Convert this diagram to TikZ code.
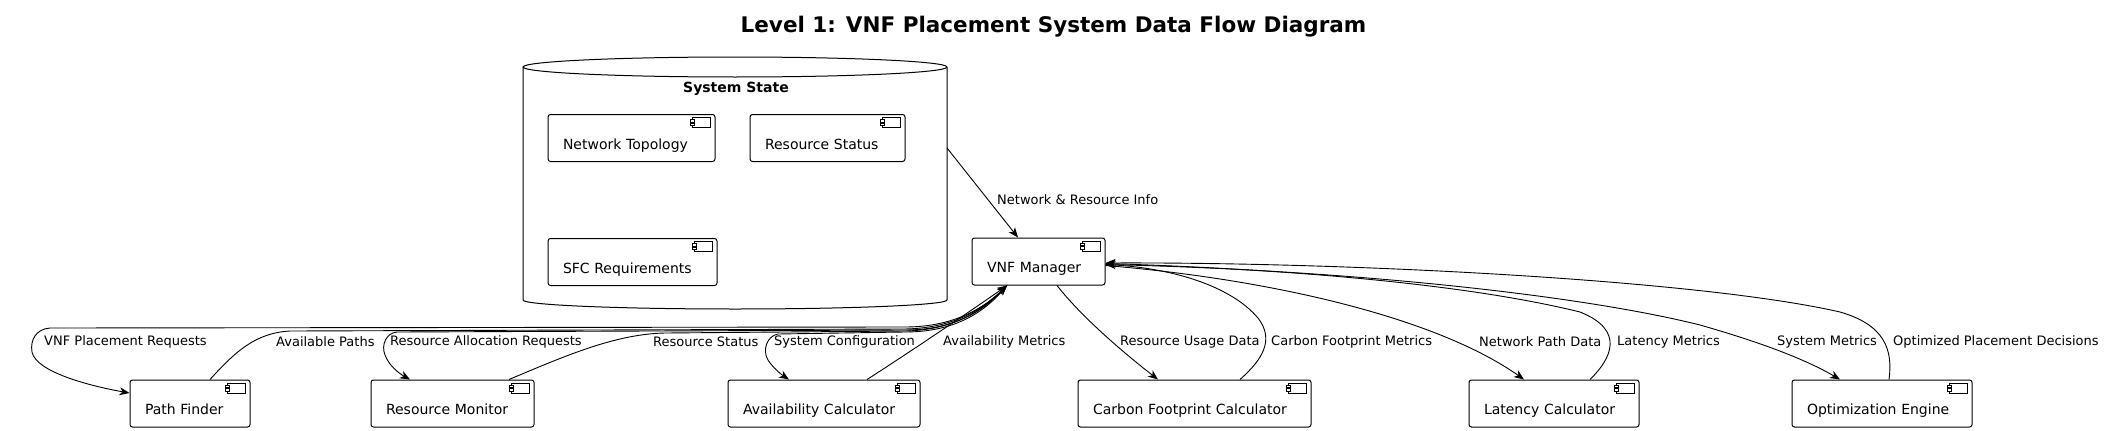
\documentclass[tikz,border=0pt]{standalone}
\usepackage{fontspec}
\setmainfont{DejaVu Sans}
\usetikzlibrary{arrows.meta}
\begin{document}
\begin{tikzpicture}[x=1pt,y=-1pt,
  comp/.style={draw, line width=1pt, rounded corners=2.5pt, fill=white,
    font=\fontsize{14pt}{16pt}\selectfont, minimum height=47pt,
    inner xsep=15pt, inner ysep=0pt, align=left, text height=22pt, text depth=0pt,
    path picture={
      \draw[line width=0.8pt, sharp corners] ([xshift=-23pt,yshift=-3pt]path picture bounding box.north east) rectangle ([xshift=-5pt,yshift=-13pt]path picture bounding box.north east);
      \draw[line width=0.8pt, sharp corners, fill=white] ([xshift=-25pt,yshift=-5pt]path picture bounding box.north east) rectangle ([xshift=-21pt,yshift=-7.5pt]path picture bounding box.north east);
      \draw[line width=0.8pt, sharp corners, fill=white] ([xshift=-25pt,yshift=-8.5pt]path picture bounding box.north east) rectangle ([xshift=-21pt,yshift=-11pt]path picture bounding box.north east);
    }},
  lbl/.style={font=\fontsize{13pt}{15pt}\selectfont, inner sep=0pt, anchor=west},
  flow/.style={draw, line width=0.9pt, -{Stealth[length=10pt,width=8pt,inset=3pt]}},
]
\useasboundingbox (0,0) rectangle (2107,431);

% title
\node[font=\bfseries\fontsize{21.5pt}{25pt}\selectfont, inner sep=0pt] (title) at (1053.5,27) {Level 1: VNF Placement System Data Flow Diagram};

% System State database
\draw[line width=1pt, fill=white] (523,67) -- (523,300) arc[start angle=180, end angle=360, x radius=212pt, y radius=9pt] -- (947,67);
\draw[line width=1pt, fill=white] (735,67) ellipse [x radius=212pt, y radius=10pt];
\node[font=\bfseries\fontsize{14pt}{16pt}\selectfont, inner sep=0pt] (sstitle) at (736,89) {System State};
\coordinate (ssE) at (947,148);

\node[comp, text width=137pt] (nt) at (631.5,138) {Network Topology};
\node[comp, text width=125pt] (rs) at (827.5,138) {Resource Status};
\node[comp, text width=139pt] (sfc) at (632.5,262) {SFC Requirements};

% VNF Manager
\node[comp, text width=103pt] (vnf) at (1038.5,261.5) {VNF Manager};

% bottom components
\node[comp, text width=90pt]  (pf)  at (190,403.5) {Path Finder};
\node[comp, text width=133pt] (rm)  at (452.5,403.5) {Resource Monitor};
\node[comp, text width=162pt] (ac)  at (824,403.5) {Availability Calculator};
\node[comp, text width=203pt] (cfc) at (1194.5,403.5) {Carbon Footprint Calculator};
\node[comp, text width=140pt] (lc)  at (1554,403.5) {Latency Calculator};
\node[comp, text width=150pt] (oe)  at (1882,403.5) {Optimization Engine};

% connectors
\draw[flow] (ssE) -- ([xshift=-20.5pt]vnf.north);

\draw[flow] ([xshift=-31.5pt]vnf.south) .. controls (990,303) and (960,327) .. (905,327) -- (50,328) .. controls (36,329) and (30,340) .. (32,352) .. controls (36,372) and (90,386) .. ([yshift=10.5pt]pf.west);
\draw[flow] ([xshift=20pt]pf.north) .. controls (235,352) and (255,333) .. (290,331) -- (905,329) .. controls (962,328) and (990,302) .. ([xshift=-31.5pt]vnf.south);
\draw[flow] ([xshift=-31.5pt]vnf.south) .. controls (990,304) and (962,330) .. (905,330) -- (397,332) .. controls (386,333) and (381,345) .. (385,355) .. controls (389,366) and (400,374) .. ([xshift=-42.5pt]rm.north);
\draw[flow] ([xshift=56.5pt]rm.north) .. controls (565,356) and (615,334) .. (665,333) -- (905,331) .. controls (962,330) and (990,303) .. ([xshift=-31.5pt]vnf.south);
\draw[flow] ([xshift=-31.5pt]vnf.south) .. controls (990,306) and (962,332) .. (905,332) -- (778,334) .. controls (767,336) and (762,350) .. (768,360) .. controls (773,368) and (782,375) .. ([xshift=-35pt]ac.north);
\draw[flow] ([xshift=43pt]ac.north) .. controls (910,352) and (975,308) .. ([xshift=-31.5pt]vnf.south);

\draw[flow] ([xshift=18.5pt]vnf.south) .. controls (1080,315) and (1120,350) .. ([xshift=-36.5pt]cfc.north);
\draw[flow] ([xshift=45.5pt]cfc.north) .. controls (1262,360) and (1275,340) .. (1258,318) .. controls (1230,285) and (1170,268) .. ([yshift=-3pt]vnf.east);
\draw[flow] ([yshift=-4pt]vnf.east) .. controls (1280,280) and (1440,320) .. ([xshift=-30pt]lc.north);
\draw[flow] ([xshift=36pt]lc.north) .. controls (1612,358) and (1625,330) .. (1580,312) .. controls (1450,280) and (1250,268) .. ([yshift=-2pt]vnf.east);
\draw[flow] ([yshift=-3pt]vnf.east) .. controls (1350,270) and (1580,295) .. (1700,325) .. controls (1770,345) and (1810,362) .. ([xshift=-42pt]oe.north);
\draw[flow] ([xshift=7pt]oe.north) .. controls (1893,350) and (1885,325) .. (1840,312) .. controls (1700,280) and (1350,262) .. ([yshift=-1.5pt]vnf.east);

% labels
\node[lbl] (l0) at (997,200) {Network \& Resource Info};
\node[lbl] (l1) at (44,342) {VNF Placement Requests};
\node[lbl] (l2) at (276,342) {Available Paths};
\node[lbl] (l3) at (390,342) {Resource Allocation Requests};
\node[lbl] (l4) at (653,342) {Resource Status};
\node[lbl] (l5) at (774,342) {System Configuration};
\node[lbl] (l6) at (943,342) {Availability Metrics};
\node[lbl] (l7) at (1120,342) {Resource Usage Data};
\node[lbl] (l8) at (1271,342) {Carbon Footprint Metrics};
\node[lbl] (l9) at (1479,342) {Network Path Data};
\node[lbl] (l10) at (1617,342) {Latency Metrics};
\node[lbl] (l11) at (1777,342) {System Metrics};
\node[lbl] (l12) at (1893,342) {Optimized Placement Decisions};
\end{tikzpicture}
\end{document}
